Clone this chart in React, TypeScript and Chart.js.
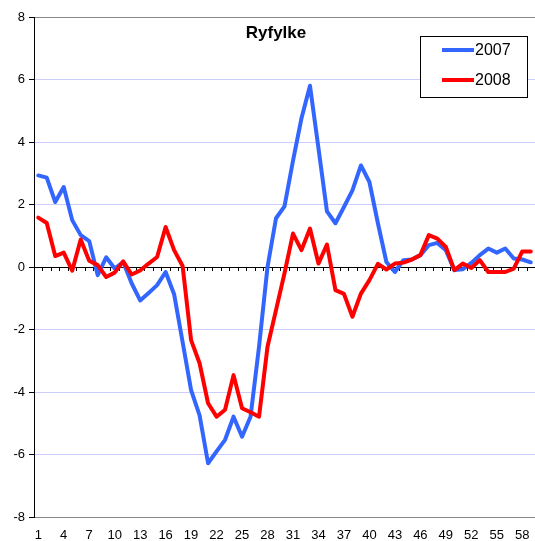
import React, { useEffect, useRef } from "react";
import { Chart, registerables } from "chart.js";

Chart.register(...registerables);

const categories = [
  1, 2, 3, 4, 5, 6, 7, 8, 9, 10, 11, 12, 13, 14, 15, 16, 17, 18, 19, 20,
  21, 22, 23, 24, 25, 26, 27, 28, 29, 30, 31, 32, 33, 34, 35, 36, 37, 38, 39, 40,
  41, 42, 43, 44, 45, 46, 47, 48, 49, 50, 51, 52, 53, 54, 55, 56, 57, 58, 59,
];

const series2007 = [
  2.93, 2.86, 2.08, 2.56, 1.5, 1.02, 0.83, -0.26, 0.31, -0.05,
  0.16, -0.52, -1.07, -0.83, -0.58, -0.16, -0.87, -2.4, -3.94, -4.75,
  -6.28, -5.9, -5.53, -4.79, -5.43, -4.79, -2.55, 0.0, 1.56, 1.94,
  3.4, 4.76, 5.8, 3.8, 1.78, 1.4, 1.92, 2.45, 3.25, 2.72,
  1.4, 0.16, -0.16, 0.22, 0.24, 0.38, 0.7, 0.77, 0.54, -0.1,
  -0.07, 0.13, 0.38, 0.59, 0.46, 0.59, 0.27, 0.24, 0.15,
];

const series2008 = [
  1.58, 1.41, 0.35, 0.46, -0.12, 0.88, 0.2, 0.06, -0.32, -0.18,
  0.18, -0.24, -0.11, 0.11, 0.32, 1.28, 0.54, 0.03, -2.34, -3.08,
  -4.36, -4.79, -4.57, -3.46, -4.52, -4.65, -4.79, -2.55, -1.38, -0.2,
  1.07, 0.54, 1.23, 0.11, 0.72, -0.74, -0.86, -1.59, -0.85, -0.42,
  0.1, -0.08, 0.11, 0.14, 0.24, 0.38, 1.02, 0.91, 0.64, -0.1,
  0.11, -0.03, 0.22, -0.16, -0.16, -0.16, -0.05, 0.5, 0.5,
];

const seriesLabels = ["2007", "2008"];
const seriesColors = ["#3366FF", "#FF0000"];
const chartTitle = "Ryfylke";
const yMin = -8;
const yMax = 8;
const yStep = 2;
const xLabelEvery = 3;

const FONT = "'Liberation Sans', Arial, sans-serif";

const decorPlugin = {
  id: "decor",
  beforeDatasetsDraw(chart: any) {
    const { ctx, chartArea } = chart;
    const y0 = chart.scales.y.getPixelForValue(0);
    const n = categories.length;
    const w = (chartArea.right - chartArea.left) / n;
    ctx.save();
    ctx.strokeStyle = "#000";
    ctx.lineWidth = 1;
    ctx.beginPath();
    for (let i = 1; i < n; i++) {
      const x = Math.round(chartArea.left + i * w) + 0.5;
      ctx.moveTo(x, Math.round(y0));
      ctx.lineTo(x, Math.round(y0) + 4);
    }
    ctx.stroke();
    ctx.restore();
  },
  afterDatasetsDraw(chart: any) {
    const { ctx } = chart;
    ctx.save();
    ctx.fillStyle = "#000";
    ctx.font = `bold 17px ${FONT}`;
    ctx.textAlign = "center";
    ctx.textBaseline = "middle";
    ctx.fillText(chartTitle, 276, 33);
    const bx = 420.5, by = 36.5, bw = 107, bh = 61;
    ctx.fillStyle = "#fff";
    ctx.fillRect(bx, by, bw, bh);
    ctx.strokeStyle = "#000";
    ctx.lineWidth = 1;
    ctx.strokeRect(bx, by, bw, bh);
    chart.data.datasets.forEach((ds: any, i: number) => {
      const y = 50 + i * 30;
      ctx.strokeStyle = ds.borderColor;
      ctx.lineWidth = 4;
      ctx.lineCap = "butt";
      ctx.beginPath();
      ctx.moveTo(442, y);
      ctx.lineTo(474, y);
      ctx.stroke();
      ctx.fillStyle = "#000";
      ctx.font = `16px ${FONT}`;
      ctx.textAlign = "left";
      ctx.textBaseline = "middle";
      ctx.fillText(ds.label, 475, y + 1);
    });
    ctx.restore();
  },
};

export default function App() {
  const canvasRef = useRef<HTMLCanvasElement | null>(null);

  useEffect(() => {
    if (!canvasRef.current) return;
    const chart = new Chart(canvasRef.current, {
      type: "line",
      data: {
        labels: categories.map(String),
        datasets: [
          {
            label: seriesLabels[0],
            data: series2007,
            borderColor: seriesColors[0],
            backgroundColor: seriesColors[0],
            borderWidth: 4,
            pointRadius: 0,
            tension: 0,
            borderJoinStyle: "round",
            borderCapStyle: "round",
            order: 1,
          },
          {
            label: seriesLabels[1],
            data: series2008,
            borderColor: seriesColors[1],
            backgroundColor: seriesColors[1],
            borderWidth: 4,
            pointRadius: 0,
            tension: 0,
            borderJoinStyle: "round",
            borderCapStyle: "round",
            order: 0,
          },
        ],
      },
      options: {
        responsive: false,
        animation: false,
        devicePixelRatio: 1,
        layout: { padding: { top: 17, right: 0, bottom: 0, left: 0 } },
        plugins: {
          legend: { display: false },
          title: { display: false },
          tooltip: { enabled: false },
        },
        scales: {
          x: {
            type: "category",
            offset: true,
            grid: { display: false, drawTicks: false },
            border: { display: true, color: "#888", width: 1 },
            ticks: {
              autoSkip: false,
              maxRotation: 0,
              minRotation: 0,
              padding: 11,
              color: "#000",
              font: { family: FONT, size: 13 },
              callback: (_v: any, i: number) =>
                i % xLabelEvery === 0 ? String(categories[i]) : "",
            },
            afterFit: (s: any) => {
              s.height = 24;
              s.paddingLeft = 0;
              s.paddingRight = 0;
            },
          },
          y: {
            min: yMin,
            max: yMax,
            ticks: {
              stepSize: yStep,
              color: "#000",
              padding: 4,
              font: { family: FONT, size: 13 },
            },
            grid: {
              color: (c: any) => {
                const v = c.tick && c.tick.value;
                if (v === 0) return "#000";
                if (v === yMin || v === yMax) return "#888";
                return "#CCCCFF";
              },
              tickColor: "#000",
              tickLength: 5,
              lineWidth: 1,
            },
            border: { display: true, color: "#000", width: 1 },
            afterFit: (s: any) => {
              s.width = 34;
              s.paddingTop = 0;
              s.paddingBottom = 0;
            },
          },
        },
      },
      plugins: [decorPlugin],
    } as any);
    return () => chart.destroy();
  }, []);

  return (
    <div style={{ position: "absolute", left: 0, top: 0, width: 535, height: 541, background: "#fff" }}>
      <canvas ref={canvasRef} width={535} height={541} style={{ display: "block" }} />
    </div>
  );
}
